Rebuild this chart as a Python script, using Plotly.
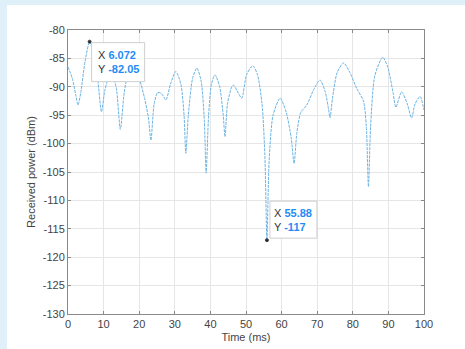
import plotly.graph_objects as go

time_ms = [0, 1.2, 2.2, 2.8, 3.6, 4.8, 6.072, 7.2, 8.4, 9.4, 10.4, 12.0, 13.5, 14.7, 15.8, 17.0,
           18.5, 20.0, 21.5, 22.6, 23.3, 24.2, 25.2, 26.3, 27.5, 28.8, 30.3, 31.7, 32.6, 33.1,
           33.8, 35.0, 36.2, 37.4, 38.3, 38.8, 39.5, 40.3, 41.3, 42.6, 43.6, 44.1, 44.8, 46.0,
           46.5, 47.5, 48.8, 50.2, 51.9, 53.2, 54.5, 55.3, 55.88, 56.5, 57.6, 59.6, 61.3, 62.7,
           63.5, 64.3, 65.4, 67.1, 69.0, 70.8, 72.3, 73.2, 73.6, 74.3, 75.6, 77.4, 79.2, 81.1,
           83.0, 83.8, 84.4, 85.0, 86.2, 88.4, 89.8, 91.3, 92.1, 93.7, 95.3, 96.5, 97.5, 98.9, 100]
power_dbm = [-86.5, -88.5, -91.5, -93.2, -91, -85.5, -82.05, -84.5, -89, -94.4, -90.5, -87.5, -90,
             -97.5, -91, -87.5, -86.5, -88.5, -92, -95.5, -99.4, -93, -91, -91.2, -92.3, -89.5,
             -87.3, -89.5, -95, -101.7, -95, -88.5, -86.7, -89, -96, -105.2, -95, -89.5, -87.9,
             -90, -95, -98.8, -93, -90, -89.7, -90.7, -92.0, -87.8, -86.3, -87.8, -93, -102,
             -117, -103, -95, -92.0, -94.5, -99, -103.5, -98, -94.5, -93.2, -90.5, -88.8, -91,
             -94, -95.5, -92, -87.5, -85.8, -87.5, -90.3, -92.5, -97, -107.6, -97, -88, -84.8,
             -86.5, -91, -93.6, -90.9, -93, -95.5, -93, -91.7, -94.1]

tip_x = [6.072, 55.88]
tip_y = [-82.05, -117]
tip_x_labels = ["6.072", "55.88"]
tip_y_labels = ["-82.05", "-117"]

x_ticks = [0, 10, 20, 30, 40, 50, 60, 70, 80, 90, 100]
y_ticks = [-80, -85, -90, -95, -100, -105, -110, -115, -120, -125, -130]

W, H = 465, 349
L, R, T, B = 68, 41, 30, 35
pw, ph = W - L - R, H - T - B
FONT = "Liberation Sans, Arial, sans-serif"

fig = go.Figure()
fig.add_trace(go.Scatter(x=time_ms, y=power_dbm, mode="lines",
                         line=dict(color="#6ab4e4", width=1, shape="spline", smoothing=0.7,
                                   dash="3px,1px"),
                         hoverinfo="skip"))
fig.add_trace(go.Scatter(x=tip_x, y=tip_y, mode="markers",
                         marker=dict(color="#222222", size=3, line=dict(color="#444444", width=1)),
                         hoverinfo="skip"))

# white figure panel on the light-blue backdrop
fig.add_shape(type="rect", xref="paper", yref="paper",
              x0=(7 - L) / pw, x1=(W + 5 - L) / pw,
              y0=(H - B - (H + 5)) / ph, y1=(H - B - 5) / ph,
              fillcolor="white", line=dict(width=0), layer="below")

# data-tip boxes: (box x0, x1, y0, y1 pixel offsets from the point, text shifts)
boxes = [(2, 55, -40, -1, 7, -20), (3, 50, 2, 39, 6, 20)]
for i in range(len(tip_x)):
    bx0, bx1, by0, by1, tx, ty = boxes[i]
    fig.add_shape(type="rect", xref="x", yref="y", xsizemode="pixel", ysizemode="pixel",
                  xanchor=tip_x[i], yanchor=tip_y[i], x0=bx0, x1=bx1, y0=by0, y1=by1,
                  fillcolor="white", line=dict(color="#cfcfcf", width=1), layer="above")
    txt = ("<span style='color:#333333'>X</span> <b><span style='color:#1f8cf5'>%s</span></b><br>"
           "<span style='color:#333333'>Y</span> <b><span style='color:#1f8cf5'>%s</span></b>"
           % (tip_x_labels[i], tip_y_labels[i]))
    fig.add_annotation(x=tip_x[i], y=tip_y[i], text=txt, showarrow=False,
                       xanchor="left", yanchor="middle", xshift=tx, yshift=ty, align="left",
                       font=dict(family=FONT, size=11), borderpad=0)

axis_common = dict(showline=True, linecolor="#8a8a8a", linewidth=1, mirror="ticks",
                   ticks="inside", ticklen=3, tickcolor="#8a8a8a",
                   showgrid=True, gridcolor="#e6e6e6", gridwidth=1, zeroline=False,
                   tickfont=dict(family=FONT, size=11, color="#444444"))

fig.update_xaxes(range=[0, 100], tickvals=x_ticks, ticktext=[str(v) for v in x_ticks],
                 title=dict(text="Time (ms)", standoff=4,
                            font=dict(family=FONT, size=11, color="#444444")),
                 **axis_common)
fig.update_yaxes(range=[-130, -80], tickvals=y_ticks, ticktext=[str(v) for v in y_ticks],
                 title=dict(text="Received power (dBm)", standoff=4,
                            font=dict(family=FONT, size=11, color="#444444")),
                 **axis_common)

fig.update_layout(width=W, height=H, margin=dict(l=L, r=R, t=T, b=B, autoexpand=False),
                  paper_bgcolor="#dff0f8", plot_bgcolor="white", showlegend=False)

fig.write_html("out.html", config={"displayModeBar": False},
               post_script="document.body.style.margin='0';document.body.style.background='#dff0f8';")
